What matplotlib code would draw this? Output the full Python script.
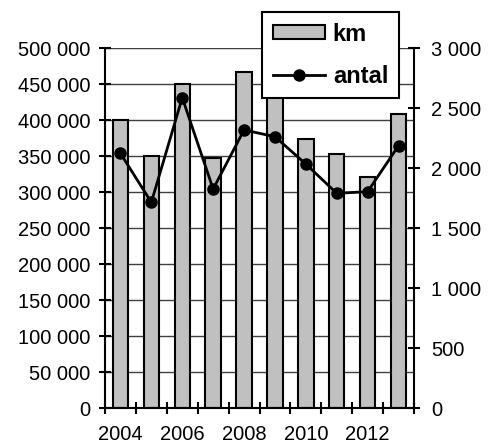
import matplotlib
matplotlib.use("Agg")
import matplotlib.pyplot as plt
from matplotlib.ticker import FuncFormatter, MultipleLocator, FixedLocator

years = [2004, 2005, 2006, 2007, 2008, 2009, 2010, 2011, 2012, 2013]
km = [400000, 350000, 450000, 347000, 466000, 475000, 373000, 353000, 321000, 408000]
antal = [2122, 1714, 2586, 1825, 2317, 2261, 2033, 1789, 1803, 2186]
year_labels = ["2004", "2006", "2008", "2010", "2012"]

plt.rcParams['font.family'] = ['Liberation Sans', 'DejaVu Sans']

fig = plt.figure(figsize=(4.88, 4.46), dpi=100)
ax = fig.add_axes([105/488, 1-408/446, (414-105)/488, (408-48)/446])
ax2 = ax.twinx()

x = list(range(len(years)))
ax.bar(x, km, width=0.5, color='#C0C0C0', edgecolor='black', linewidth=1.5, label='km', zorder=2)
ax2.plot(x, antal, color='black', lw=2, marker='o', markersize=8, label='antal')

ax.set_xlim(-0.5, len(years) - 0.5)
ax.set_ylim(0, 500000)
ax2.set_ylim(0, 3000)

fmt = FuncFormatter(lambda v, p: f"{int(v):,}".replace(",", " "))
ax.yaxis.set_major_locator(MultipleLocator(50000))
ax.yaxis.set_major_formatter(fmt)
ax2.yaxis.set_major_locator(MultipleLocator(500))
ax2.yaxis.set_major_formatter(fmt)

ax.set_axisbelow(True)
ax.yaxis.grid(True, color='#404040', lw=1)

ax.xaxis.set_major_locator(FixedLocator([0, 2, 4, 6, 8]))
ax.set_xticklabels(year_labels)
ax.xaxis.set_minor_locator(FixedLocator([i - 0.5 for i in range(len(years) + 1)]))
ax.tick_params(axis='x', which='major', length=0, pad=12, labelsize=14.5)
ax.tick_params(axis='x', which='minor', direction='inout', length=9, width=1.5)
ax.tick_params(axis='y', direction='inout', length=9, width=1.5, pad=6, labelsize=14.5)
ax2.tick_params(axis='y', direction='inout', length=9, width=1.5, pad=8, labelsize=14.5)

for a in (ax, ax2):
    a.spines['top'].set_visible(False)
    for s in a.spines.values():
        s.set_linewidth(1.5)
ax.spines['right'].set_visible(False)
ax2.spines['left'].set_visible(False)
ax2.spines['bottom'].set_visible(False)

h1, l1 = ax.get_legend_handles_labels()
h2, l2 = ax2.get_legend_handles_labels()
leg = fig.legend(h1 + h2, l1 + l2, loc='upper left', bbox_to_anchor=(262/488, 1-12/446),
                 borderaxespad=0, fancybox=False, framealpha=1, edgecolor='black',
                 prop={'weight': 'bold', 'size': 17}, handlelength=2.2, handleheight=0.55,
                 labelspacing=0.8, handletextpad=0.35, borderpad=0.45)
leg.get_frame().set_linewidth(1.5)

fig.savefig('out.png', dpi=100)
